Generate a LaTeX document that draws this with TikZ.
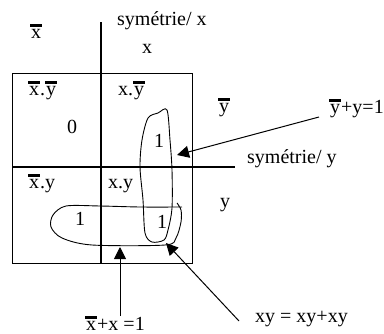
\documentclass[tikz,border=0pt]{standalone}
\usepackage{fontspec}
\setmainfont{Liberation Serif}
\usetikzlibrary{arrows.meta}
% letter with a thick bar above it
\newcommand\inv[1]{\leavevmode\vbox{\hrule height 2.8pt\kern1.6pt\hbox{\kern1pt#1\kern1pt}}}

\begin{document}
\begin{tikzpicture}[x=1pt,y=-1pt,
  lbl/.style={inner sep=0pt,anchor=base west,font=\fontsize{20}{22}\selectfont},
  axe/.style={line width=2.6pt},
  fleche/.style={line width=1pt,-{Triangle[length=12pt,width=12pt]}},
  boucle/.style={line width=0.9pt}]
\useasboundingbox (0,0) rectangle (384,333);
% table
\draw[line width=1pt] (12,73) rectangle (192,263);
\draw[axe] (101,22) -- (101,263);
\draw[axe] (12,167) -- (235,167);
% titles
\node[lbl] (xb) at (30,38) {\inv{x}};
\node[lbl] (symx) at (117,25) {symétrie/ x};
\node[lbl] (xh) at (142,53) {x};
\node[lbl] (yb) at (218,112) {\inv{y}};
\node[lbl] (symy) at (247,163) {symétrie/ y};
\node[lbl] (yh) at (220,207) {y};
% cells
\node[lbl] (c00) at (28,95) {\inv{x}.\inv{y}};
\node[lbl] (c10) at (118,95) {x.\inv{y}};
\node[lbl] (c01) at (28,188) {\inv{x}.y};
\node[lbl] (c11) at (108,188) {x.y};
\node[lbl] (v00) at (67,133) {0};
\node[lbl] (v10) at (154,147) {1};
\node[lbl] (v01) at (75,225) {1};
\node[lbl] (v11) at (157,228) {1};
% loops
\draw[boucle] plot[smooth cycle] coordinates {(140,167) (142,140) (148,118) (158,113) (167,110) (170,140) (172,170) (172,208) (168,230) (164,240) (152,242) (145,233) (143,200)};
\draw[boucle] plot[smooth] coordinates {(182,207) (140,207) (100,206) (66,206) (53,215) (51,227) (62,238) (92,245) (165,245) (176,238) (181,222) (181,210) (177,203)};
% laws
\node[lbl] (loiy) at (329,113) {\inv{y}+y=1};
\node[lbl] (loix) at (85,330) {\inv{x}+x =1};
\node[lbl] (loixy) at (255,322) {xy = xy+xy};
\coordinate (py) at (177,155);
\coordinate (px) at (120,247);
\coordinate (pxy) at (166,243);
\draw[fleche] ([shift={(-10pt,-4pt)}]loiy.base west) -- (py);
\draw[fleche] (loix.north -| px) -- (px);
\draw[fleche] ([shift={(-16pt,1pt)}]loixy.base west) -- (pxy);
\end{tikzpicture}
\end{document}
